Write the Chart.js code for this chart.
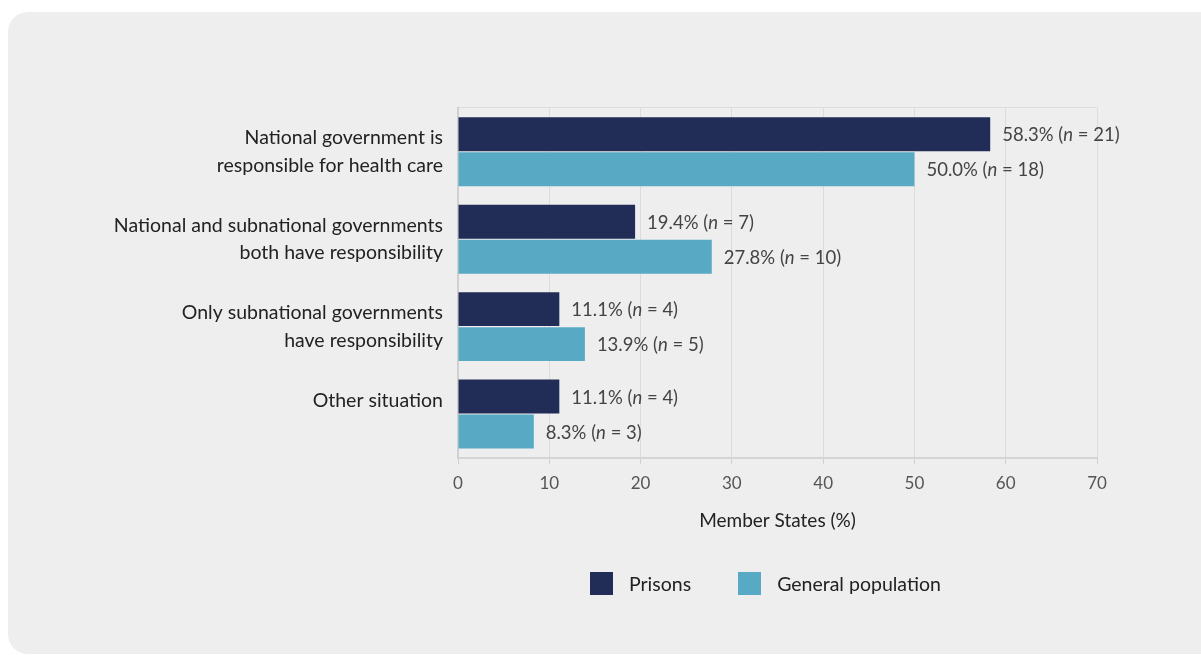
<!DOCTYPE html>
<html>
<head>
<meta charset="utf-8">
<title>Responsibility for health care</title>
<script src="https://cdn.jsdelivr.net/npm/chart.js@4.4.1/dist/chart.umd.min.js"></script>
<style>
  body { margin: 0; background: #fff; overflow: hidden; font-family: Lato, sans-serif; }
  #card { position: absolute; left: 8px; top: 12px; width: 1230px; height: 642px; background: #eeeeee; border-radius: 20px; }
  #wrap { position: absolute; left: 0; top: 0; width: 1201px; height: 655px; }
  #legend { position: absolute; left: 590px; top: 572px; display: flex; align-items: center; font-size: 19.5px; color: #222; line-height: 23px; }
  #legend .item { display: flex; align-items: center; margin-right: 47px; }
  #legend .box { width: 23px; height: 23px; margin-right: 16px; }
</style>
</head>
<body>
<div id="card"></div>
<div id="wrap"><canvas id="healthChart"></canvas></div>
<div id="legend"></div>
<script>
const categories = [
  ['National government is', 'responsible for health care'],
  ['National and subnational governments', 'both have responsibility'],
  ['Only subnational governments', 'have responsibility'],
  ['Other situation', '']
];
const prisonsPct = [58.3, 19.4, 11.1, 11.1];
const prisonsN = [21, 7, 4, 4];
const generalPct = [50.0, 27.8, 13.9, 8.3];
const generalN = [18, 10, 5, 3];
const xTicks = [0, 10, 20, 30, 40, 50, 60, 70];

const NAVY = '#222d57';
const TEAL = '#58aac4';
const FONT = 'Lato, sans-serif';

// value labels at the end of each bar, with an italic "n"
const barLabels = {
  id: 'barLabels',
  afterDatasetsDraw(chart) {
    const ctx = chart.ctx;
    ctx.save();
    ctx.fillStyle = '#444';
    ctx.textBaseline = 'middle';
    ctx.textAlign = 'left';
    chart.data.datasets.forEach((ds, di) => {
      chart.getDatasetMeta(di).data.forEach((bar, i) => {
        const parts = [
          [ds.data[i].toFixed(1) + '% (', false],
          ['n', true],
          [' = ' + ds.counts[i] + ')', false]
        ];
        let x = bar.x + 12;
        parts.forEach(([text, italic]) => {
          ctx.font = (italic ? 'italic ' : '') + '18.5px ' + FONT;
          ctx.fillText(text, x, bar.y + 1);
          x += ctx.measureText(text).width;
        });
      });
    });
    ctx.restore();
  }
};

const chart = new Chart(document.getElementById('healthChart'), {
  type: 'bar',
  data: {
    labels: categories,
    datasets: [
      { label: 'Prisons', data: prisonsPct, counts: prisonsN, backgroundColor: NAVY },
      { label: 'General population', data: generalPct, counts: generalN, backgroundColor: TEAL }
    ]
  },
  options: {
    indexAxis: 'y',
    responsive: true,
    maintainAspectRatio: false,
    animation: false,
    categoryPercentage: 0.8,
    barPercentage: 0.97,
    layout: { padding: { top: 108, right: 104, bottom: 123, left: 0 } },
    plugins: {
      legend: { display: false },
      tooltip: { enabled: false }
    },
    scales: {
      x: {
        min: 0,
        max: 70,
        afterBuildTicks: scale => { scale.ticks = xTicks.map(v => ({ value: v })); },
        ticks: { font: { family: FONT, size: 17 }, color: '#555', padding: 10 },
        grid: { color: '#dcdcdc', tickLength: 6, tickColor: '#cfcfcf' },
        border: { color: '#d4d4d4', width: 2 },
        title: {
          display: true,
          text: 'Member States (%)',
          font: { family: FONT, size: 19 },
          color: '#222',
          padding: { top: 5, bottom: 0 }
        }
      },
      y: {
        afterFit: scale => { scale.width = 458; },
        ticks: { font: { family: FONT, size: 19.5, lineHeight: 1.4 }, color: '#222', padding: 15 },
        grid: {
          drawTicks: false,
          color: c => (c.index === 0 ? '#dcdcdc' : 'rgba(0,0,0,0)')
        },
        border: { color: '#d0d0d0', width: 2 }
      }
    }
  },
  plugins: [barLabels]
});

// legend drawn as HTML to keep the wider box-to-text spacing
const legend = document.getElementById('legend');
chart.data.datasets.forEach(ds => {
  const item = document.createElement('div');
  item.className = 'item';
  const box = document.createElement('span');
  box.className = 'box';
  box.style.background = ds.backgroundColor;
  const label = document.createElement('span');
  label.textContent = ds.label;
  item.appendChild(box);
  item.appendChild(label);
  legend.appendChild(item);
});
</script>
</body>
</html>
